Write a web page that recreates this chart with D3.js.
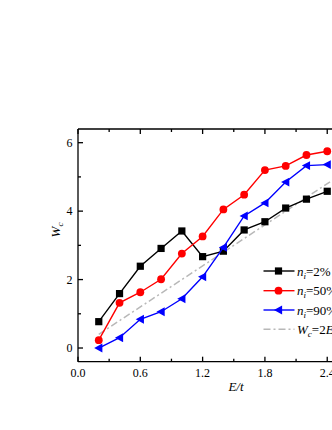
<!DOCTYPE html>
<html><head><meta charset="utf-8">
<script src="https://cdn.jsdelivr.net/npm/d3@7"></script>
<style>
html,body{margin:0;padding:0;background:#fff;}
svg{display:block;font-family:"Liberation Serif","Times New Roman",serif;}
</style></head>
<body><svg id="c" width="332" height="430"></svg>
<script>
const xValues = [0.2,0.4,0.6,0.8,1.0,1.2,1.4,1.6,1.8,2.0,2.2,2.4];
const n2 = [0.77,1.59,2.39,2.91,3.42,2.67,2.83,3.45,3.69,4.09,4.35,4.58];
const n50 = [0.23,1.32,1.63,2.01,2.76,3.26,4.05,4.48,5.20,5.32,5.64,5.75];
const n90 = [0.0,0.30,0.84,1.06,1.44,2.08,2.94,3.86,4.24,4.85,5.33,5.36];
const fitX = [0.2,2.6];
const fitY = [0.4,5.2];
const xTicks = [0.0,0.6,1.2,1.8,2.4];
const yTicks = [0,2,4,6];
const xMinor = [0.3,0.9,1.5,2.1];
const yMinor = [1,3,5];

const svg = d3.select("#c");
const x = d3.scaleLinear().domain([0,2.6]).range([78,348]);
const y = d3.scaleLinear().domain([-0.4,6.4]).range([361.7,129]);
const L=78, R=348, T=129, B=361.7;

// clip
svg.append("defs").append("clipPath").attr("id","clip").append("rect")
  .attr("x",L).attr("y",T).attr("width",R-L).attr("height",B-T);

const g = svg.append("g").attr("clip-path","url(#clip)");

// fit line
g.append("path")
  .attr("d", d3.line().x(d=>x(d[0])).y(d=>y(d[1]))(fitX.map((v,i)=>[v,fitY[i]])))
  .attr("fill","none").attr("stroke","#b8b8b8").attr("stroke-width",1.5)
  .attr("stroke-dasharray","7,3,2,3");

const line = d3.line().x(d=>x(d[0])).y(d=>y(d[1]));
const series = [
  {vals:n2, color:"#000000", shape:"square"},
  {vals:n50, color:"#ff0000", shape:"circle"},
  {vals:n90, color:"#0000ff", shape:"tri"}
];
function marker(sel, shape, color){
  if(shape==="square"){
    sel.append("rect").attr("x",-3.6).attr("y",-3.6).attr("width",7.2).attr("height",7.2).attr("fill",color);
  } else if(shape==="circle"){
    sel.append("circle").attr("r",3.9).attr("fill",color);
  } else {
    sel.append("path").attr("d","M-4.6,0L3.6,-4.4L3.6,4.4Z").attr("fill",color);
  }
}
series.forEach(s=>{
  const pts = xValues.map((v,i)=>[v,s.vals[i]]);
  g.append("path").attr("d",line(pts)).attr("fill","none")
    .attr("stroke",s.color).attr("stroke-width",1.4);
  pts.forEach(p=>{
    const m = g.append("g").attr("transform",`translate(${x(p[0])},${y(p[1])})`);
    marker(m,s.shape,s.color);
  });
});

// axes frame
const ax = svg.append("g").attr("stroke","#000").attr("stroke-width",1.3).attr("fill","none");
ax.append("line").attr("x1",L).attr("x2",L).attr("y1",T).attr("y2",B);
ax.append("line").attr("x1",L).attr("x2",R).attr("y1",B).attr("y2",B);
ax.append("line").attr("x1",L).attr("x2",R).attr("y1",T).attr("y2",T);
ax.append("line").attr("x1",R).attr("x2",R).attr("y1",T).attr("y2",B);

// ticks inward
xTicks.forEach(v=>{
  ax.append("line").attr("x1",x(v)).attr("x2",x(v)).attr("y1",B).attr("y2",B-5);
  ax.append("line").attr("x1",x(v)).attr("x2",x(v)).attr("y1",T).attr("y2",T+5);
});
xMinor.forEach(v=>{
  ax.append("line").attr("x1",x(v)).attr("x2",x(v)).attr("y1",B).attr("y2",B-3);
  ax.append("line").attr("x1",x(v)).attr("x2",x(v)).attr("y1",T).attr("y2",T+3);
});
yTicks.forEach(v=>{
  ax.append("line").attr("x1",L).attr("x2",L+5).attr("y1",y(v)).attr("y2",y(v));
});
yMinor.forEach(v=>{
  ax.append("line").attr("x1",L).attr("x2",L+3).attr("y1",y(v)).attr("y2",y(v));
});

const fmt = d3.format(".1f");
svg.append("g").selectAll("text").data(xTicks).join("text")
  .attr("x",d=>x(d)).attr("y",377).attr("text-anchor","middle")
  .attr("font-size",12).text(d=>fmt(d));
svg.append("g").selectAll("text").data(yTicks).join("text")
  .attr("x",72.5).attr("y",d=>y(d)+4.2).attr("text-anchor","end")
  .attr("font-size",12).text(d=>d);

// axis titles
const yt = svg.append("text").attr("transform","translate(60,230) rotate(-90)")
  .attr("text-anchor","middle").attr("font-size",13);
yt.append("tspan").attr("font-style","italic").text("W");
yt.append("tspan").attr("font-style","italic").attr("font-size",9).attr("dy",3).text("c");
svg.append("text").attr("x",236).attr("y",391).attr("text-anchor","middle")
  .attr("font-size",13).attr("font-style","italic").text("E/t");

// legend
const leg = [
  {color:"#000", shape:"square", sub:"i", main:"n", rest:"=2%"},
  {color:"#ff0000", shape:"circle", sub:"i", main:"n", rest:"=50%"},
  {color:"#0000ff", shape:"tri", sub:"i", main:"n", rest:"=90%"},
  {color:"#b8b8b8", shape:null, sub:"c", main:"W", rest:"=2E/t"}
];
const rowsY = [271,290.7,310,329.3];
leg.forEach((l,i)=>{
  const gy = rowsY[i];
  const lg = svg.append("g");
  const ln = lg.append("line").attr("x1",263.5).attr("x2",294.5).attr("y1",gy).attr("y2",gy)
    .attr("stroke",l.color).attr("stroke-width",l.shape?1.4:1.5);
  if(!l.shape) ln.attr("stroke-dasharray","7,3,2,3");
  if(l.shape){
    const m = lg.append("g").attr("transform",`translate(278.5,${gy})`);
    marker(m,l.shape,l.color);
  }
  const t = lg.append("text").attr("x",297).attr("y",gy+4.5).attr("font-size",13);
  t.append("tspan").attr("font-style","italic").text(l.main);
  t.append("tspan").attr("font-style","italic").attr("font-size",9).attr("dy",3).text(l.sub);
  const r = t.append("tspan").attr("dy",-3);
  if(l.shape) r.text(l.rest);
  else { r.text("=2"); t.append("tspan").attr("font-style","italic").text("E/t"); }
});
</script></body></html>
